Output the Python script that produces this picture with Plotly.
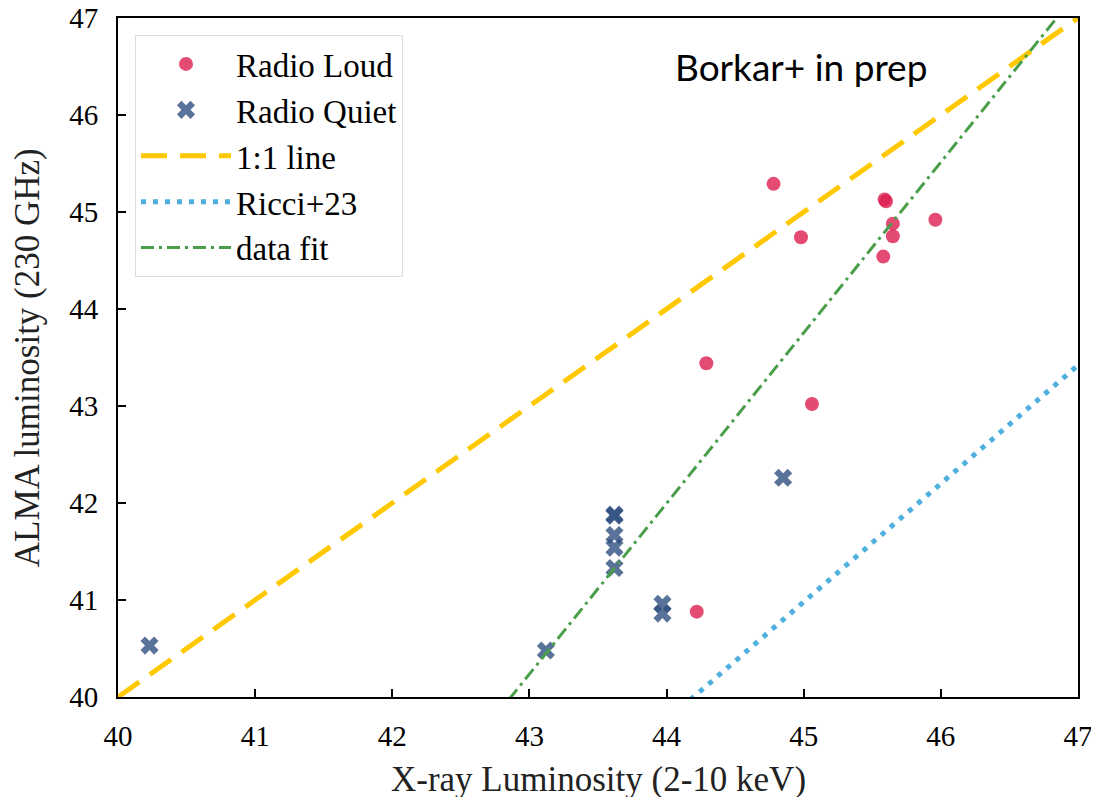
import plotly.graph_objects as go
import numpy as np

# Radio Loud sources (X-ray lum, ALMA lum)
rl_x = [44.78, 44.98, 45.59, 45.60, 45.65, 45.65, 45.58, 45.96, 44.29, 45.06, 44.22]
rl_y = [45.29, 44.74, 45.13, 45.11, 44.88, 44.75, 44.54, 44.92, 43.44, 43.02, 40.88]

# Radio Quiet sources
rq_x = [40.23, 43.62, 43.62, 43.62, 43.62, 43.62, 43.12, 43.97, 43.97, 44.85]
rq_y = [40.53, 41.87, 41.88, 41.67, 41.54, 41.33, 40.48, 40.96, 40.86, 42.26]

# Relations
line_x = [40, 47]
ricci_slope, ricci_int = 1.22, -13.92
fit_slope, fit_int = 1.759, -35.40

x_ticks = [40, 41, 42, 43, 44, 45, 46, 47]
y_ticks = [40, 41, 42, 43, 44, 45, 46, 47]

serif = "Liberation Serif"

fig = go.Figure()
fig.add_trace(go.Scatter(
    x=rl_x, y=rl_y, mode="markers", name="Radio Loud",
    marker=dict(symbol="circle", size=14, color="#dc1e50", opacity=0.8, line=dict(width=0)),
))
fig.add_trace(go.Scatter(
    x=rq_x, y=rq_y, mode="markers", name="Radio Quiet",
    marker=dict(symbol="x", size=16, color="#2f4f80", opacity=0.8, line=dict(width=0)),
))
lx = np.array(line_x, dtype=float)
fig.add_trace(go.Scatter(
    x=lx, y=lx, mode="lines", name="1:1 line",
    line=dict(color="#ffc800", width=5, dash="26px,13px"),
))
fig.add_trace(go.Scatter(
    x=lx, y=ricci_slope * lx + ricci_int, mode="lines", name="Ricci+23",
    line=dict(color="#4fb0e0", width=5, dash="5px,7px"),
))
fig.add_trace(go.Scatter(
    x=lx, y=fit_slope * lx + fit_int, mode="lines", name="data fit",
    line=dict(color="#4a9e4a", width=3, dash="13px,5px,3px,5px"),
))

fig.add_annotation(
    x=0.578, y=0.929, xref="paper", yref="paper", text="Borkar+ in prep",
    showarrow=False, xanchor="left", yanchor="middle",
    font=dict(family="Lato", size=37, color="black"),
)
# axis titles
fig.add_annotation(
    x=0.5, y=-0.122, xref="paper", yref="paper", text="X-ray Luminosity (2-10 keV)",
    showarrow=False, xanchor="center", yanchor="middle",
    font=dict(family=serif, size=35, color="#222"),
)
fig.add_annotation(
    x=-0.094, y=0.5, xref="paper", yref="paper", text="ALMA luminosity (230 GHz)",
    showarrow=False, xanchor="center", yanchor="middle", textangle=-90,
    font=dict(family=serif, size=35, color="#222"),
)

axis_common = dict(
    showgrid=False, zeroline=False, showline=True, linecolor="black", linewidth=2,
    mirror=True, ticks="inside", ticklen=8, tickwidth=1.5, tickcolor="black",
    tickfont=dict(family=serif, size=29, color="black"), automargin=False,
    ticklabeloverflow="allow",
)
fig.update_xaxes(
    range=[40, 47], tickvals=x_ticks, ticktext=[str(v) for v in x_ticks],
    ticklabelstandoff=12, **axis_common,
)
fig.update_yaxes(
    range=[40, 47], tickvals=y_ticks, ticktext=[str(v) for v in y_ticks],
    ticklabelstandoff=12, **axis_common,
)

# the page body adds an 8px offset; margins compensate for it
fig.update_layout(
    width=1099, height=797,
    margin=dict(l=110, r=29, t=10, b=108),
    plot_bgcolor="white", paper_bgcolor="white",
    showlegend=True,
    legend=dict(
        x=0.0177, y=0.975, xanchor="left", yanchor="top",
        bgcolor="white", bordercolor="#dddddd", borderwidth=1,
        font=dict(family=serif, size=33, color="black"),
        itemwidth=90, tracegroupgap=0,
        entrywidth=222, entrywidthmode="pixels",
    ),
)

fig.write_html("out.html")
